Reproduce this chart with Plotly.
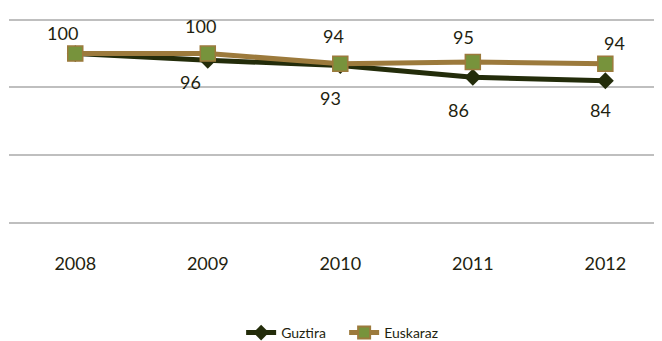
import plotly.graph_objects as go

years = ["2008", "2009", "2010", "2011", "2012"]
guztira = [100, 96, 93, 86, 84]
euskaraz = [100, 100, 94, 95, 94]

FONT = "Lato, 'DejaVu Sans', sans-serif"
DARK = "#232C0A"
TAN = "#9C7A3C"
GREEN = "#77933C"
TXT = "#1F1F10"

# label offsets (pixels) for data labels
eus_dx = [-13, -7, -7, -9, 9]
eus_dy = [21, 28, 28, 25, 21]
guz_dx = [0, -17, -10, -14, -5]
guz_dy = [0, -22, -33, -33, -29]

fig = go.Figure()
fig.add_trace(go.Scatter(
    x=years, y=guztira, name="Guztira", mode="lines+markers",
    line=dict(color=DARK, width=5),
    marker=dict(symbol="diamond", size=13, color=DARK),
))
fig.add_trace(go.Scatter(
    x=years, y=euskaraz, name="Euskaraz", mode="lines+markers",
    line=dict(color=TAN, width=5),
    marker=dict(symbol="square", size=15, color=GREEN, line=dict(color=TAN, width=1.5)),
))

annotations = []
for i, e in enumerate(euskaraz):
    annotations.append(dict(x=i, y=e, xref="x", yref="y", text=str(e), showarrow=False,
                            xshift=eus_dx[i], yshift=eus_dy[i],
                            font=dict(family=FONT, size=18, color=TXT)))
for i, (g, e) in enumerate(zip(guztira, euskaraz)):
    if g == e:
        continue  # identical label already shown
    annotations.append(dict(x=i, y=g, xref="x", yref="y", text=str(g), showarrow=False,
                            xshift=guz_dx[i], yshift=guz_dy[i],
                            font=dict(family=FONT, size=18, color=TXT)))

fig.update_layout(
    width=662, height=341,
    margin=dict(l=1, r=9, t=10, b=124),
    paper_bgcolor="white", plot_bgcolor="white",
    font=dict(family=FONT, color=TXT),
    showlegend=True,
    annotations=annotations,
    legend=dict(orientation="h", x=0.514, xanchor="center", y=-0.522, yanchor="middle",
                font=dict(family=FONT, size=14, color=TXT),
                itemsizing="constant", entrywidth=58,
                traceorder="normal"),
)
fig.update_xaxes(type="category", range=[-0.5, 4.42], showgrid=False, zeroline=False,
                 showline=False, ticks="", tickfont=dict(family=FONT, size=18, color=TXT),
                 ticklabelstandoff=27, automargin=False)
fig.update_yaxes(range=[-0.6, 121], tickvals=[0, 40, 80, 120], showgrid=True,
                 gridcolor="#BFBFBF", gridwidth=1.5,
                 zeroline=True, zerolinecolor="#BFBFBF", zerolinewidth=1.5,
                 showticklabels=False, ticks="", automargin=False)

fig.write_html("out.html")
